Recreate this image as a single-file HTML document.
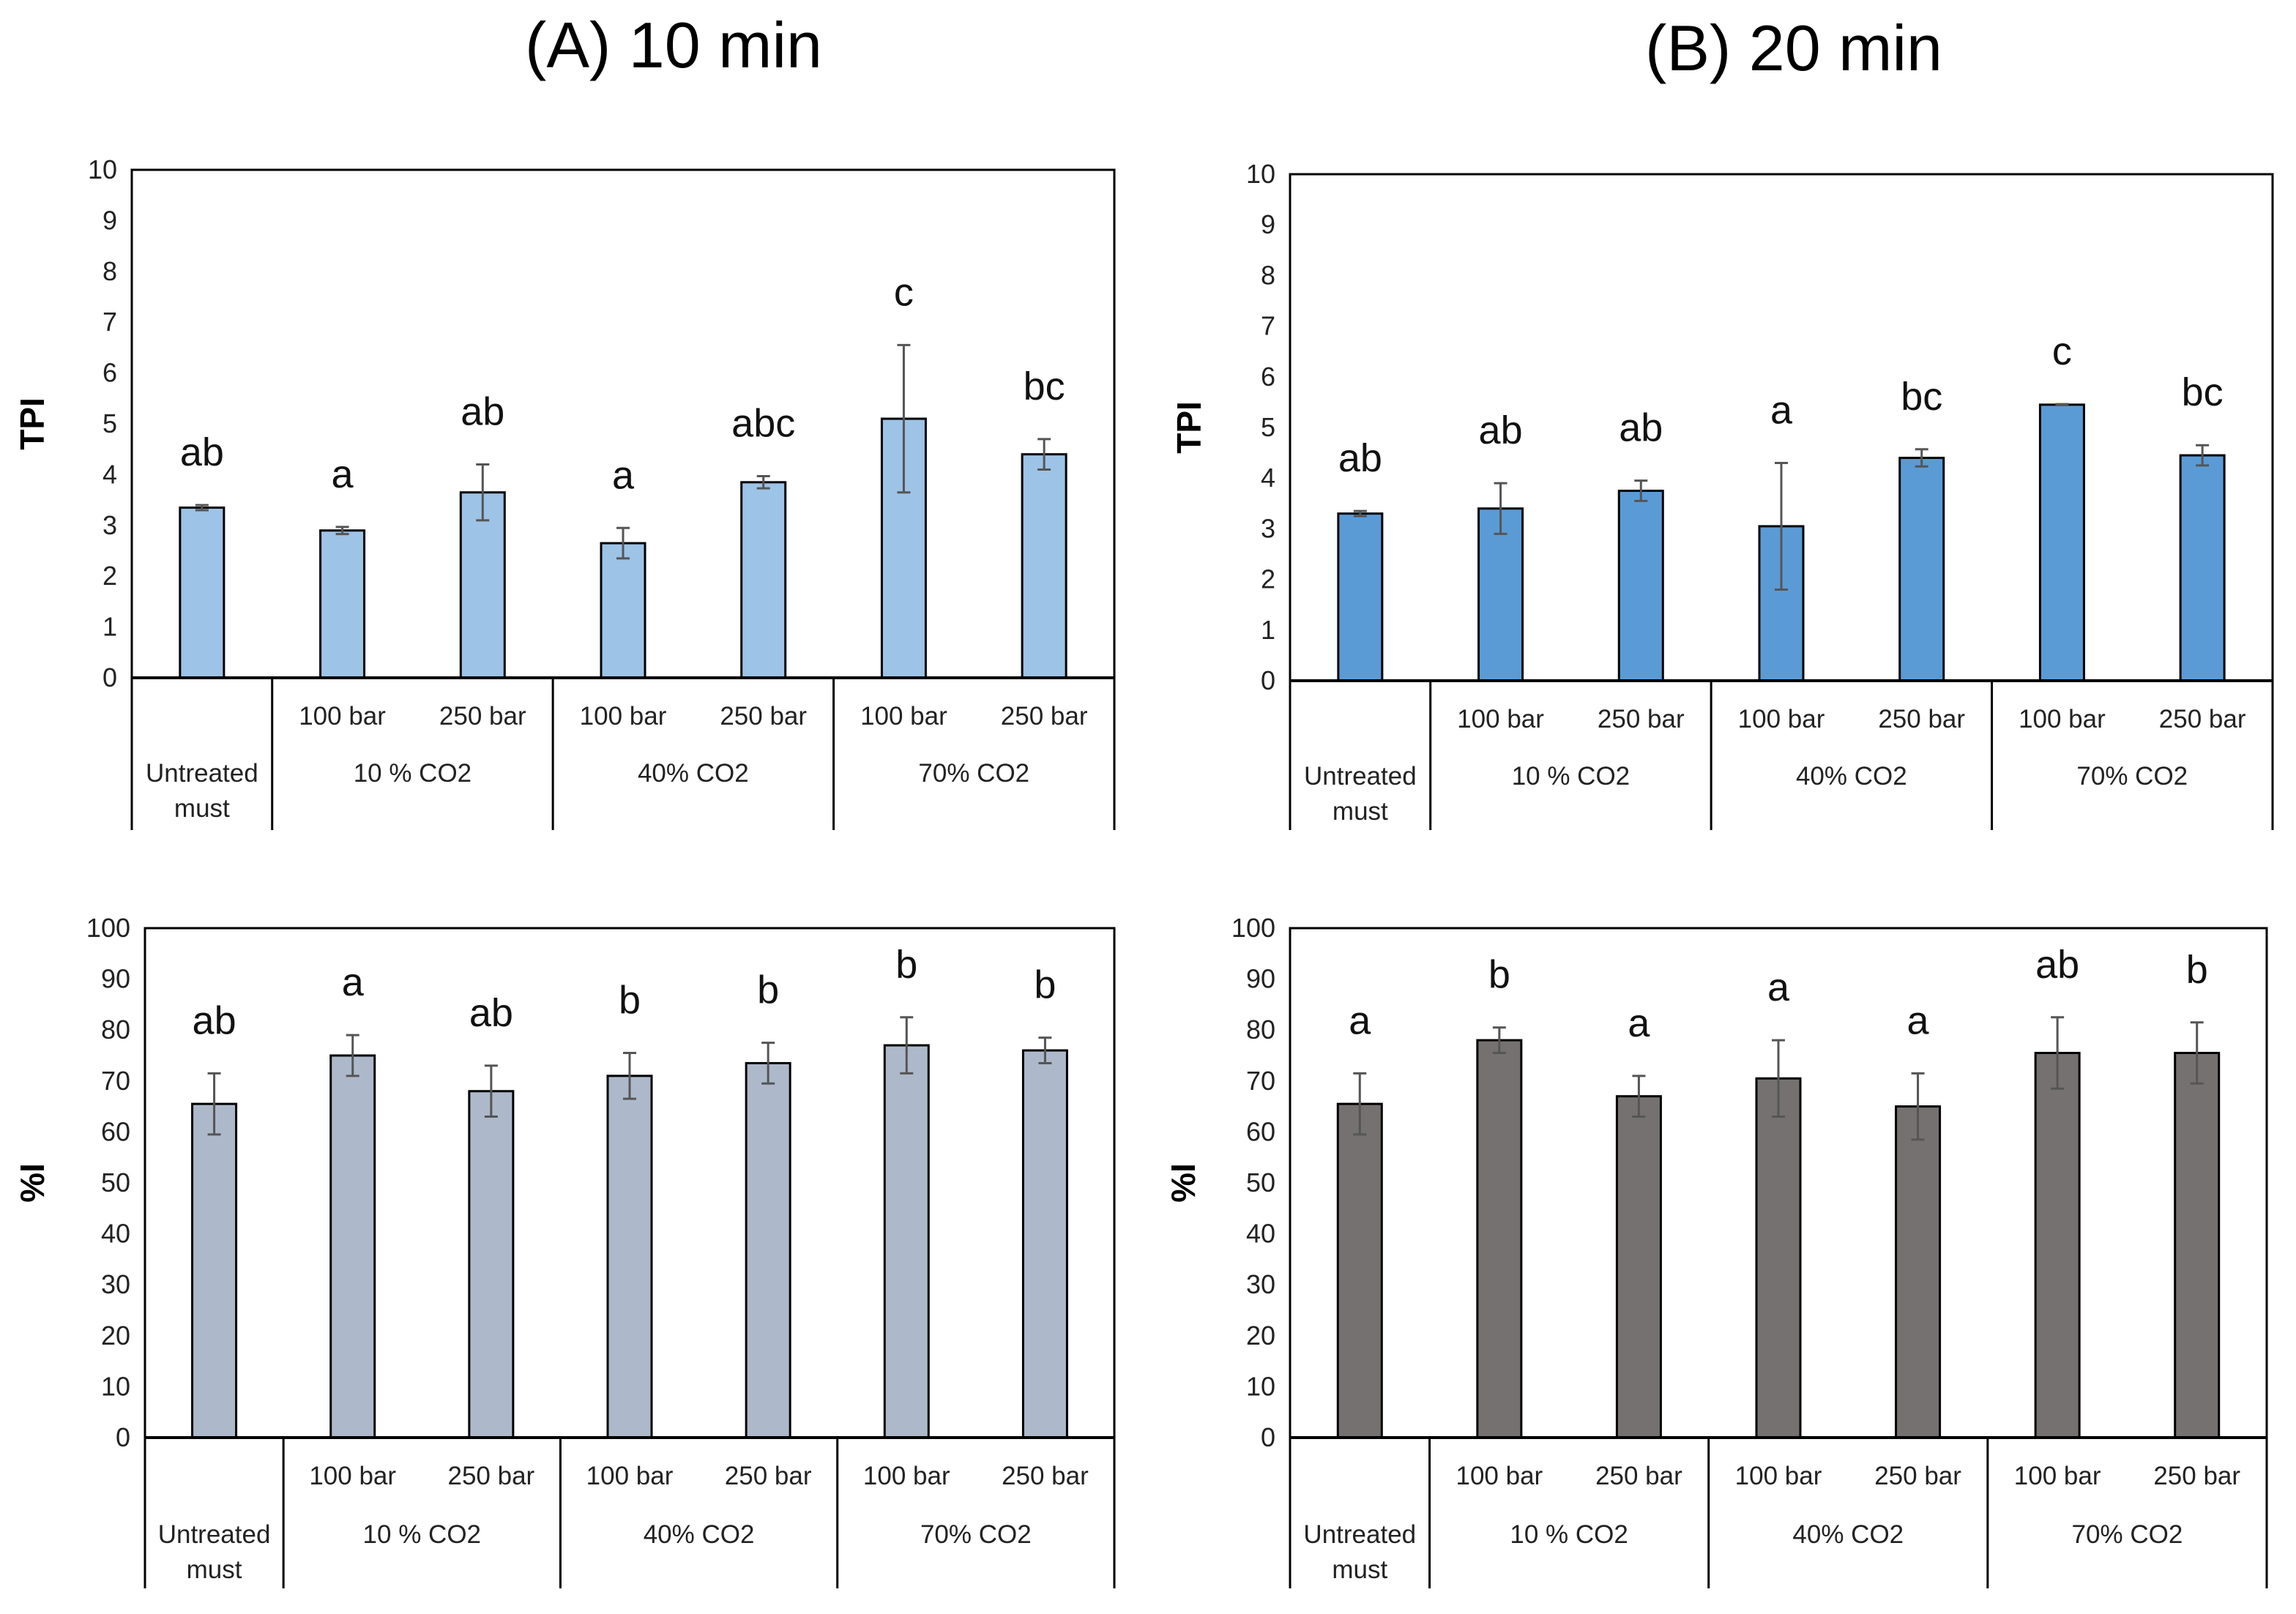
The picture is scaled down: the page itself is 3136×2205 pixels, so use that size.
<!DOCTYPE html>
<html><head><meta charset="utf-8"><style>
html,body{margin:0;padding:0;background:#fff;}
svg{display:block;font-family:"Liberation Sans",sans-serif;}
</style></head><body>
<svg id="fig" width="3136" height="2205" viewBox="0 0 3136 2205" xmlns="http://www.w3.org/2000/svg">
<text x="920" y="92" font-size="88" text-anchor="middle">(A) 10 min</text>
<text x="2450" y="96" font-size="88" text-anchor="middle">(B) 20 min</text>
</svg>
<script>
const pressures = ["", "100 bar","250 bar","100 bar","250 bar","100 bar","250 bar"];
const groups = ["10 % CO2","40% CO2","70% CO2"];
const tpiTicks = [0,1,2,3,4,5,6,7,8,9,10];
const pctTicks = [0,10,20,30,40,50,60,70,80,90,100];
const tpiA = [3.35,2.9,3.65,2.65,3.85,5.1,4.4];
const tpiAErr = [0.05,0.07,0.55,0.3,0.12,1.45,0.3];
const tpiALetters = ["ab","a","ab","a","abc","c","bc"];
const tpiB = [3.3,3.4,3.75,3.05,4.4,5.45,4.45];
const tpiBErr = [0.05,0.5,0.2,1.25,0.17,0.01,0.2];
const tpiBLetters = ["ab","ab","ab","a","bc","c","bc"];
const pctA = [65.5,75,68,71,73.5,77,76];
const pctAErr = [6,4,5,4.5,4,5.5,2.5];
const pctALetters = ["ab","a","ab","b","b","b","b"];
const pctB = [65.5,78,67,70.5,65,75.5,75.5];
const pctBErr = [6,2.5,4,7.5,6.5,7,6];
const pctBLetters = ["a","b","a","a","a","ab","b"];

const svg = document.getElementById('fig');
const NS = "http://www.w3.org/2000/svg";
function mk(tag, attrs, parent){
  const e = document.createElementNS(NS, tag);
  for (const k in attrs) e.setAttribute(k, attrs[k]);
  (parent||svg).appendChild(e);
  return e;
}
function panel(p){
  const g = mk('g', {});
  
  
  const {L,R,T,Z,B,max} = p;
  const yS = v => Z - (v/max)*(Z-T);
  const slot = (R-L)/7;
  const xC = i => L + (i+0.5)*slot;
  const fr = mk('path', {d:`M${L},${Z} V${T} H${R} V${Z}`, fill:'none', stroke:'#000', 'stroke-width':3}, g);
  
  
  p.ticks.forEach(t=>{
    const tx = mk('text', {x:L-20, y:yS(t)+12, 'font-size':36, 'text-anchor':'end', fill:'#222'}, g);
    tx.textContent = t;
    
    
  });
  const yt = mk('text', {x:0, y:0, 'font-size':46, 'font-weight':'bold', 'text-anchor':'middle', transform:`translate(${p.ytx},${(T+Z)/2}) rotate(-90)`}, g);
  yt.textContent = p.ylabel;
  
  
  p.vals.forEach((v,i)=>{
    const x = xC(i), w = 60;
    const r = mk('rect', {x:x-w/2, y:yS(v), width:w, height:Z-yS(v), fill:p.color, stroke:'#000', 'stroke-width':3}, g);
    
    
    const e = p.err[i];
    const eb = mk('path', {d:`M${x},${yS(v+e)} V${yS(v-e)} M${x-9},${yS(v+e)} H${x+9} M${x-9},${yS(v-e)} H${x+9}`, stroke:'#555', 'stroke-width':3, fill:'none'}, g);
    
    
    const lt = mk('text', {x:x, y:yS(v+e)-54, 'font-size':54, 'text-anchor':'middle', fill:'#111'}, g);
    lt.textContent = p.letters[i];
    
    
  });
  const ax = mk('line', {x1:L, x2:R, y1:Z, y2:Z, stroke:'#000', 'stroke-width':4}, g);
  
  
  [0,1,3,5,7].forEach(k=>{
    const dx = L + k*slot;
    const d = mk('line', {x1:dx, x2:dx, y1:Z, y2:B, stroke:'#000', 'stroke-width':3}, g);
    
    
  });
  pressures.forEach((s,i)=>{
    if(!s) return;
    const t = mk('text', {x:xC(i), y:Z+p.r1, 'font-size':35, 'text-anchor':'middle', fill:'#222'}, g);
    t.textContent = s;
    
    
  });
  groups.forEach((s,k)=>{
    const t = mk('text', {x:L + (2+2*k)*slot, y:Z+p.r2, 'font-size':35, 'text-anchor':'middle', fill:'#222'}, g);
    t.textContent = s;
    
    
  });
  const u1 = mk('text', {x:xC(0), y:Z+p.r2, 'font-size':35, 'text-anchor':'middle', fill:'#222'}, g);
  u1.textContent = 'Untreated';
  
  
  const u2 = mk('text', {x:xC(0), y:Z+p.r2+48, 'font-size':35, 'text-anchor':'middle', fill:'#222'}, g);
  u2.textContent = 'must';
  
  
}
panel({name:'tpi-10min-chart', L:180,R:1522,T:232,Z:926,B:1134,max:10,ticks:tpiTicks,vals:tpiA,err:tpiAErr,letters:tpiALetters,color:'#9DC3E6',ylabel:'TPI',ytx:60,r1:64,r2:142});
panel({name:'tpi-20min-chart', L:1762,R:3104,T:238,Z:930,B:1134,max:10,ticks:tpiTicks,vals:tpiB,err:tpiBErr,letters:tpiBLetters,color:'#5B9BD5',ylabel:'TPI',ytx:1640,r1:64,r2:142});
panel({name:'pct-i-10min-chart', L:198,R:1522,T:1268,Z:1964,B:2170,max:100,ticks:pctTicks,vals:pctA,err:pctAErr,letters:pctALetters,color:'#ADB9CA',ylabel:'%I',ytx:60,r1:64,r2:144});
panel({name:'pct-i-20min-chart', L:1762,R:3096,T:1268,Z:1964,B:2170,max:100,ticks:pctTicks,vals:pctB,err:pctBErr,letters:pctBLetters,color:'#767171',ylabel:'%I',ytx:1632,r1:64,r2:144});
</script>
</body></html>
